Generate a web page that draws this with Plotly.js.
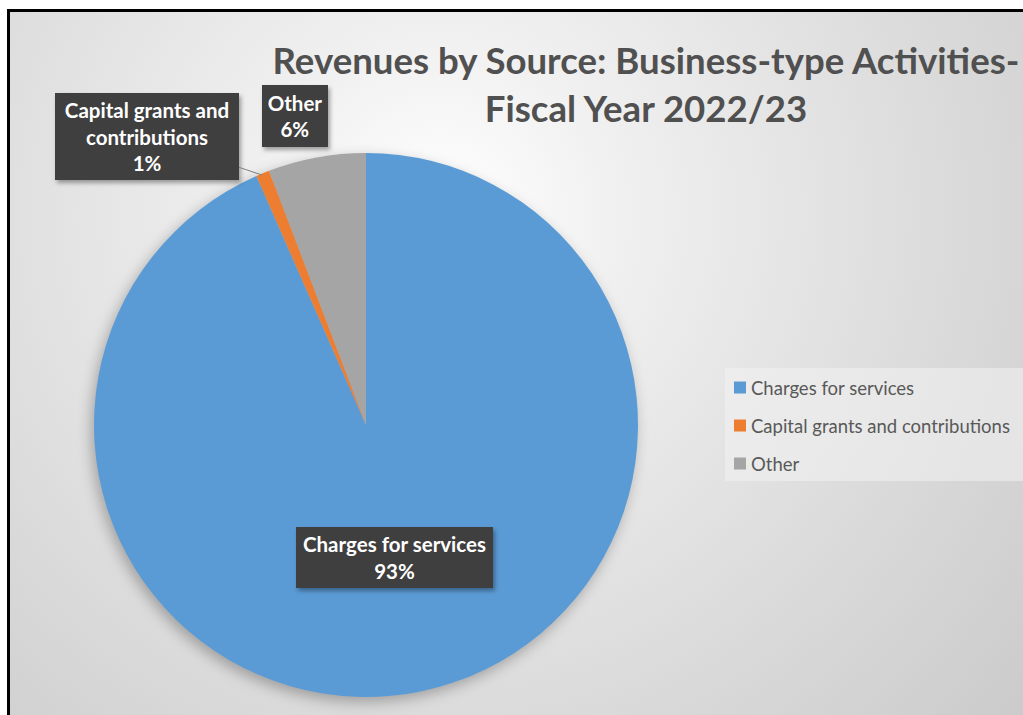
<!DOCTYPE html>
<html>
<head>
<meta charset="utf-8">
<script src="https://cdn.plot.ly/plotly-3.0.1.min.js"></script>
<style>
  html, body { margin: 0; padding: 0; width: 1023px; height: 715px; overflow: hidden; background: #ffffff; }
  #frame {
    position: absolute; left: 7px; top: 9px; width: 1200px; height: 800px;
    border-left: 3px solid #000; border-top: 3px solid #000;
    background: radial-gradient(circle at 430px 200px, #ffffff 0px, #f0f0f0 180px, #dadada 520px, #c6c6c6 850px);
  }
  #chart { position: absolute; left: 0; top: 0; width: 1080px; height: 760px; }
  .pielayer { filter: drop-shadow(-3px 5px 7px rgba(0,0,0,0.28)); }
  .annotation rect.bg { filter: drop-shadow(2px 3px 2px rgba(0,0,0,0.35)); }
</style>
</head>
<body>
<div id="frame"></div>
<div id="chart"></div>
<script>
// ---- data ----
const categories = ["Charges for services", "Capital grants and contributions", "Other"];
const shares = [93.4, 0.8, 5.8];
const sliceColors = ["#5B9BD5", "#ED7D31", "#A5A5A5"];
const chartTitle = "Revenues by Source: Business-type Activities-<br>Fiscal Year 2022/23";

// ---- derived text ----
const total = shares.reduce((a, b) => a + b, 0);
const pct = shares.map(v => Math.round(v / total * 100) + "%");
const labelText = [
  categories[0] + "<br>" + pct[0],
  "Capital grants and<br>contributions<br>" + pct[1],
  categories[2] + "<br>" + pct[2]
];

const W = 1080, H = 760;
const px = x => x / W;
const py = y => 1 - y / H;

const trace = {
  type: "pie",
  labels: categories,
  values: shares,
  sort: false,
  direction: "clockwise",
  rotation: 0,
  textinfo: "none",
  hoverinfo: "label+percent",
  marker: { colors: sliceColors, line: { width: 0 } },
  domain: { x: [px(94), px(638)], y: [py(697), py(153)] }
};

const boxFont = { family: "Lato, 'Open Sans', sans-serif", size: 20.5, color: "#ffffff", weight: "bold" };
const boxBg = "#3f3f3f";

const layout = {
  width: W, height: H,
  margin: { l: 0, r: 0, t: 0, b: 0 },
  paper_bgcolor: "rgba(0,0,0,0)",
  plot_bgcolor: "rgba(0,0,0,0)",
  title: {
    text: chartTitle,
    x: px(646), xanchor: "center", xref: "paper",
    y: py(74), yanchor: "top", yref: "paper",
    font: { family: "Lato, 'Open Sans', sans-serif", size: 36.6, color: "#505050", weight: "bold" }
  },
  showlegend: true,
  legend: {
    x: px(720), xanchor: "left",
    y: py(369), yanchor: "top",
    bgcolor: "rgba(0,0,0,0)",
    font: { family: "Lato, 'Open Sans', sans-serif", size: 18.5, color: "#595959" },
    itemclick: false, itemdoubleclick: false
  },
  shapes: [
    { type: "rect", xref: "paper", yref: "paper", layer: "below",
      x0: px(725), x1: px(1070), y0: py(481), y1: py(368),
      fillcolor: "rgba(242,242,242,0.55)", line: { width: 0 } }
  ],
  annotations: [
    { xref: "paper", yref: "paper", x: px(394.5), y: py(557.5), xanchor: "center", yanchor: "middle",
      text: labelText[0], showarrow: false, font: boxFont, bgcolor: boxBg,
      width: 197, height: 61, borderpad: 0, borderwidth: 0 },
    { xref: "paper", yref: "paper", x: px(262), y: py(175),
      ax: 147 - 262, ay: 136.5 - 175, axref: "pixel", ayref: "pixel",
      text: labelText[1], showarrow: true, arrowhead: 0, arrowwidth: 1, arrowcolor: "#808080",
      font: boxFont, bgcolor: boxBg,
      width: 184, height: 87, borderpad: 0, borderwidth: 0 },
    { xref: "paper", yref: "paper", x: px(295), y: py(116), xanchor: "center", yanchor: "middle",
      text: labelText[2], showarrow: false, font: boxFont, bgcolor: boxBg,
      width: 66, height: 62, borderpad: 0, borderwidth: 0 }
  ]
};

Plotly.newPlot("chart", [trace], layout, { displayModeBar: false, staticPlot: true }).then(gd => {
  // spread legend entries to match the reference spacing
  gd.querySelectorAll(".legend [clip-path]").forEach(el => el.removeAttribute("clip-path"));
  const leg = gd.querySelector(".legend");
  if (leg) leg.removeAttribute("clip-path");
  const items = gd.querySelectorAll(".legend .traces");
  const gap = 38;
  let first = null;
  items.forEach((el, i) => {
    const m = /translate\(\s*([-\d.]+)[ ,]+([-\d.]+)\s*\)/.exec(el.getAttribute("transform") || "");
    if (!m) return;
    const x = parseFloat(m[1]), y = parseFloat(m[2]);
    if (first === null) first = y;
    el.setAttribute("transform", "translate(" + x + "," + (first + i * gap) + ")");
    const t = el.querySelector(".legendtext");
    if (t) t.setAttribute("x", parseFloat(t.getAttribute("x")) - 9);
  });
});
</script>
</body>
</html>
